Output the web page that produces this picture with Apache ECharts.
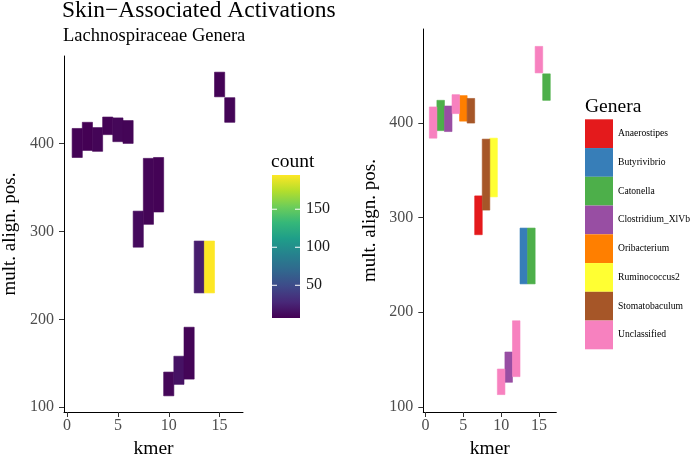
<!DOCTYPE html>
<html>
<head>
<meta charset="utf-8">
<script src="https://cdn.jsdelivr.net/npm/echarts@6/dist/echarts.min.js"></script>
<style>html,body{margin:0;padding:0;background:#fff}#c{width:694px;height:464px}</style>
</head>
<body>
<div id="c"></div>
<script>
// ---- data ----
const kmer = [1, 2, 3, 4, 5, 6, 7, 8, 9, 10, 11, 12, 13, 14, 15, 16];
const posLow = [384, 392, 391, 410, 402, 400, 282, 308, 322, 113, 126, 132, 230, 230, 453, 424];
const posHigh = [417, 424, 418, 430, 429, 426, 323, 383, 384, 140, 158, 191, 289, 289, 481, 452];
const counts = [8, 7, 9, 8, 10, 9, 12, 9, 8, 10, 16, 9, 22, 195, 8, 9];
const genus = ['Unclassified', 'Catonella', 'Clostridium_XlVb', 'Unclassified', 'Oribacterium',
  'Stomatobaculum', 'Anaerostipes', 'Stomatobaculum', 'Ruminococcus2', 'Unclassified',
  'Clostridium_XlVb', 'Unclassified', 'Butyrivibrio', 'Catonella', 'Unclassified', 'Catonella'];
const genera = ['Anaerostipes', 'Butyrivibrio', 'Catonella', 'Clostridium_XlVb', 'Oribacterium',
  'Ruminococcus2', 'Stomatobaculum', 'Unclassified'];
const xTicks = [0, 5, 10, 15];
const yTicks = [100, 200, 300, 400];
const countTicks = [50, 100, 150];

// ---- styles ----
const generaColors = ['#E41A1C', '#377EB8', '#4DAF4A', '#984EA3', '#FF7F00', '#FFFF33', '#A65628', '#F781BF'];
const viridis = ['#440154', '#482878', '#3E4A89', '#31688E', '#26828E', '#1F9E89', '#35B779', '#6DCD59', '#B4DE2C', '#FDE725'];
const FONT = 'Liberation Serif';

const xLo = Math.min(...kmer) - 0.5, xHi = Math.max(...kmer) + 0.5;
const xPad = 0.05 * (xHi - xLo);
const yLo = Math.min(...posLow), yHi = Math.max(...posHigh);
const yPad = 0.05 * (yHi - yLo);
const cMin = Math.min(...counts), cMax = Math.max(...counts);

const rows = kmer.map((k, i) => [k, posLow[i], posHigh[i], counts[i], genus[i]]);

function tile(params, api) {
  const k = api.value(0), lo = api.value(1), hi = api.value(2);
  const p1 = api.coord([k - 0.5, hi]);
  const p2 = api.coord([k + 0.5, lo]);
  const c = api.visual('color');
  return {
    type: 'rect',
    shape: { x: p1[0], y: p1[1], width: p2[0] - p1[0], height: p2[1] - p1[1] },
    style: { fill: c, stroke: c, lineWidth: 0.6 }
  };
}

function xAxis(gi) {
  return {
    type: 'value', gridIndex: gi, min: xLo - xPad, max: xHi + xPad,
    name: 'kmer', nameLocation: 'middle', nameGap: 27,
    nameTextStyle: { fontFamily: FONT, fontSize: 19.5, color: '#000' },
    axisLine: { onZero: false, lineStyle: { color: '#000', width: 1 } },
    axisTick: { customValues: xTicks, length: 5, lineStyle: { color: '#333' } },
    axisLabel: { customValues: xTicks, margin: 6, fontFamily: FONT, fontSize: 16, color: '#4d4d4d' },
    splitLine: { show: false }
  };
}
function yAxis(gi) {
  return {
    type: 'value', gridIndex: gi, min: yLo - yPad, max: yHi + yPad,
    name: 'mult. align. pos.', nameLocation: 'middle', nameGap: 44,
    nameTextStyle: { fontFamily: FONT, fontSize: 19, color: '#000' },
    axisLine: { onZero: false, lineStyle: { color: '#000', width: 1 } },
    axisTick: { customValues: yTicks, length: 5, lineStyle: { color: '#333' } },
    axisLabel: { customValues: yTicks, margin: 10, fontFamily: FONT, fontSize: 16, color: '#4d4d4d' },
    splitLine: { show: false }
  };
}

// colorbar graphic
const bar = { x: 272, y: 175, w: 28, h: 143 };
const cbGraphics = [{
  type: 'rect', shape: { x: bar.x, y: bar.y, width: bar.w, height: bar.h },
  style: {
    fill: {
      type: 'linear', x: 0, y: 0, x2: 0, y2: 1,
      colorStops: viridis.slice().reverse().map((c, i, a) => ({ offset: i / (a.length - 1), color: c }))
    }
  }
}];
countTicks.forEach(v => {
  const ty = bar.y + (cMax - v) / (cMax - cMin) * bar.h;
  cbGraphics.push({ type: 'line', shape: { x1: bar.x, y1: ty, x2: bar.x + 5, y2: ty }, style: { stroke: '#fff', lineWidth: 1 } });
  cbGraphics.push({ type: 'line', shape: { x1: bar.x + bar.w - 5, y1: ty, x2: bar.x + bar.w, y2: ty }, style: { stroke: '#fff', lineWidth: 1 } });
  cbGraphics.push({ type: 'text', x: bar.x + bar.w + 6, y: ty, style: { text: String(v), fontFamily: FONT, fontSize: 16, fill: '#1a1a1a', verticalAlign: 'middle' } });
});

const series = [{
  type: 'custom', name: 'count', xAxisIndex: 0, yAxisIndex: 0,
  renderItem: tile, data: rows, encode: { x: 0, y: [1, 2] }
}];
genera.forEach((g, gi) => {
  series.push({
    type: 'custom', name: g, xAxisIndex: 1, yAxisIndex: 1,
    itemStyle: { color: generaColors[gi] },
    renderItem: tile, data: rows.filter(r => r[4] === g), encode: { x: 0, y: [1, 2] }
  });
});

const chart = echarts.init(document.getElementById('c'), null, { renderer: 'canvas' });
chart.setOption({
  backgroundColor: '#fff',
  animation: false,
  textStyle: { fontFamily: FONT },
  title: [
    { text: 'Skin\u2212Associated Activations', left: 62, top: -1, padding: 0,
      textStyle: { fontFamily: FONT, fontSize: 23.5, fontWeight: 'normal', color: '#000' } },
    { text: 'Lachnospiraceae Genera', left: 63, top: 27, padding: 0,
      textStyle: { fontFamily: FONT, fontSize: 18.5, fontWeight: 'normal', color: '#000' } },
    { text: 'count', left: 271, top: 152, padding: 0,
      textStyle: { fontFamily: FONT, fontSize: 19.5, fontWeight: 'normal', color: '#000' } },
    { text: 'Genera', left: 585, top: 97, padding: 0,
      textStyle: { fontFamily: FONT, fontSize: 19.5, fontWeight: 'normal', color: '#000' } }
  ],
  grid: [
    { left: 64, top: 56, width: 179, height: 362 },
    { left: 423.3, top: 29, width: 133, height: 389.5 }
  ],
  xAxis: [xAxis(0), xAxis(1)],
  yAxis: [yAxis(0), yAxis(1)],
  visualMap: {
    show: false, type: 'continuous', seriesIndex: 0, dimension: 3,
    min: cMin, max: cMax, inRange: { color: viridis }
  },
  legend: {
    data: genera, orient: 'vertical', left: 585, top: 119.3, padding: 0,
    itemWidth: 28, itemHeight: 28.75, itemGap: 0, icon: 'rect', selectedMode: false,
    textStyle: { fontFamily: FONT, fontSize: 9.6, color: '#000' }
  },
  graphic: cbGraphics,
  series: series
});
</script>
</body>
</html>
